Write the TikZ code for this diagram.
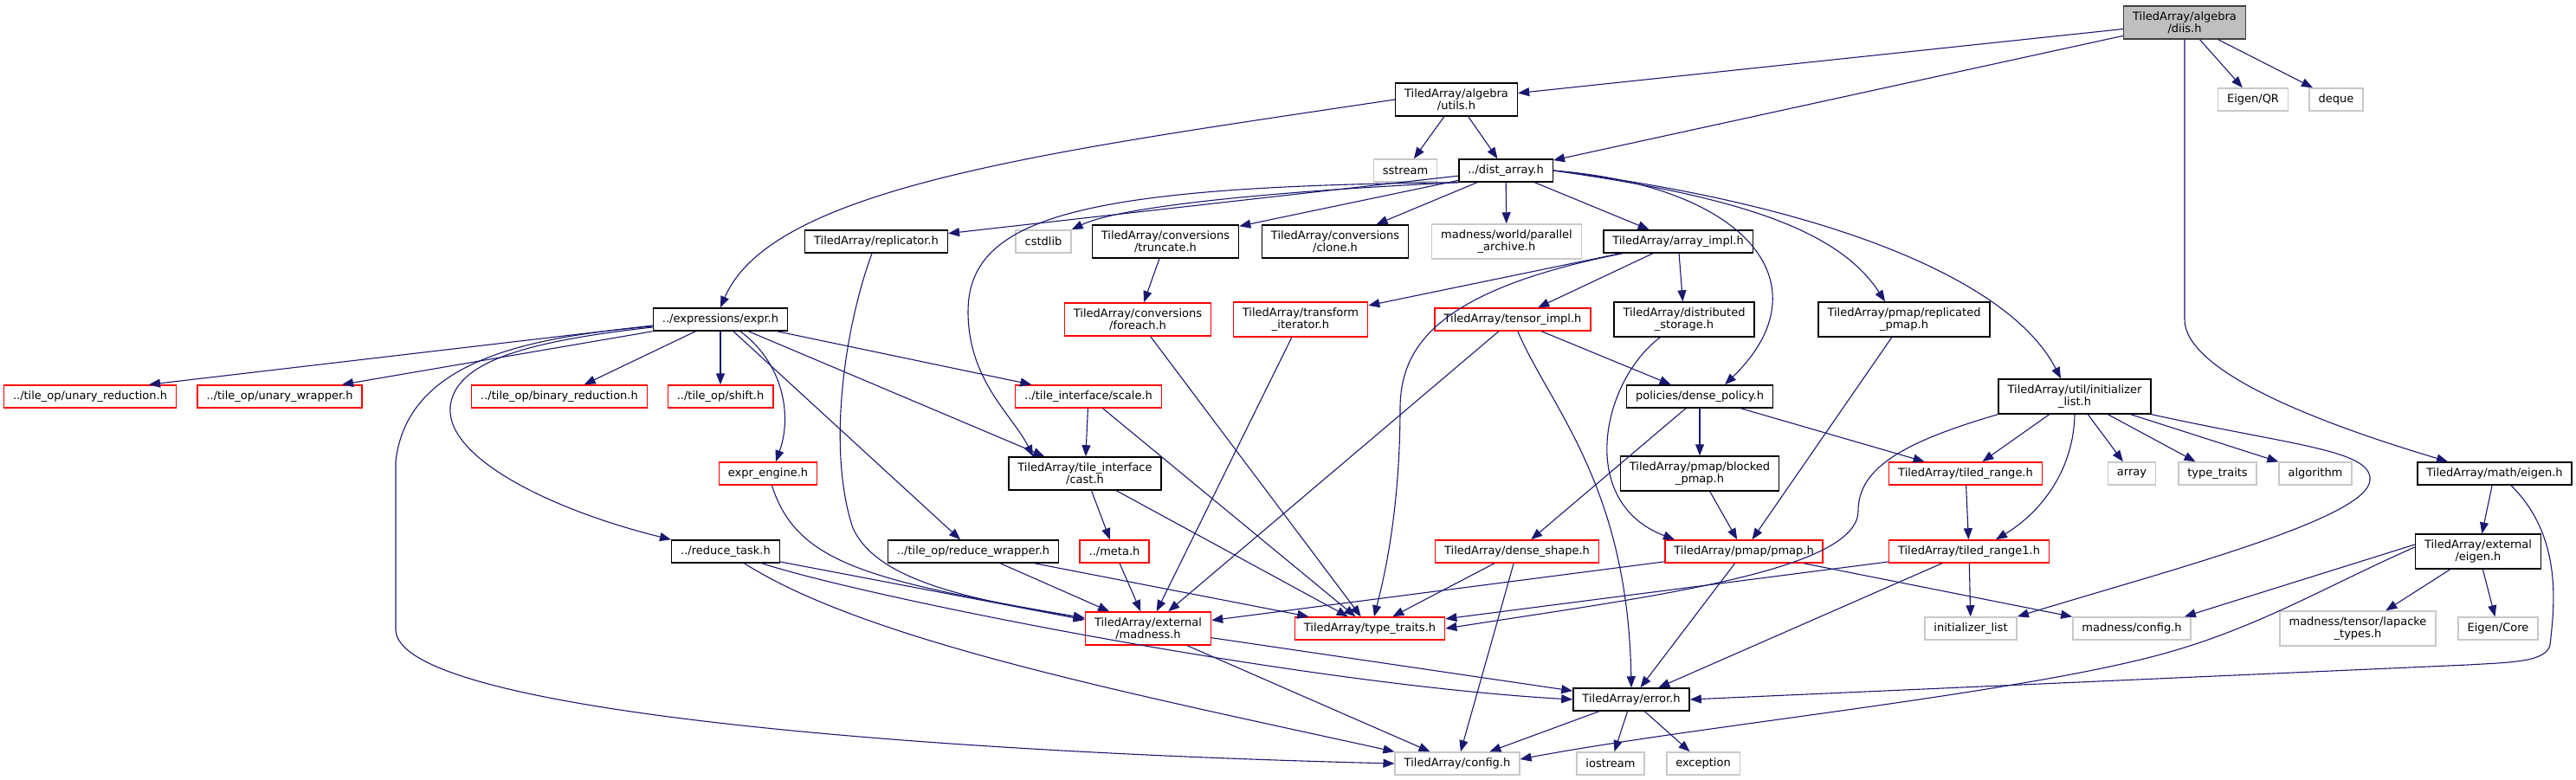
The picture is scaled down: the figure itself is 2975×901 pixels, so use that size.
\documentclass[tikz,border=0pt]{standalone}
\usepackage{fontspec}
\setmainfont{DejaVu Sans}
\usepackage{tikz}
\usetikzlibrary{arrows.meta, positioning}
\definecolor{edgeblue}{RGB}{25,25,112}
\definecolor{extgray}{RGB}{200,200,200}
\definecolor{rootfill}{RGB}{191,191,191}
\definecolor{rootline}{RGB}{64,64,64}
\tikzset{
  filenode/.style={rectangle, draw=black, fill=white, align=center,
    font=\fontsize{13}{14}\selectfont, inner xsep=10.5pt, inner ysep=6.5pt,
    minimum height=26pt, line width=1.5pt},
  truncnode/.style={filenode, draw=red},
  extnode/.style={filenode, draw=extgray},
  rootnode/.style={filenode, draw=rootline, fill=rootfill},
  inc/.style={-{Triangle[length=13pt, width=10pt]}, line width=1.1pt, color=edgeblue}
}

\begin{document}
\begin{tikzpicture}[x=1pt, y=-1pt]
  \useasboundingbox (0,0) rectangle (2975,901);
  % Files, top to bottom
  \node[rootnode] (diis) at (2523,26) {TiledArray/algebra\\/diis.h};
  \node[filenode] (utils) at (1682,115) {TiledArray/algebra\\/utils.h};
  \node[extnode] (eigenqr) at (2602,115) {Eigen/QR};
  \node[extnode] (deque) at (2698,115) {deque};
  \node[extnode] (sstream) at (1623,197) {sstream};
  \node[filenode] (distarray) at (1739,197) {../dist\_array.h};
  \node[filenode] (replicator) at (1012,279) {TiledArray/replicator.h};
  \node[extnode] (cstdlib) at (1205,279) {cstdlib};
  \node[filenode] (truncate) at (1346,279) {TiledArray/conversions\\/truncate.h};
  \node[filenode] (clone) at (1542,279) {TiledArray/conversions\\/clone.h};
  \node[extnode] (archive) at (1740,279) {madness/world/parallel\\\_archive.h};
  \node[filenode] (arrayimpl) at (1938,279) {TiledArray/array\_impl.h};
  \node[filenode] (expr) at (832,369) {../expressions/expr.h};
  \node[truncnode] (foreach) at (1314,369) {TiledArray/conversions\\/foreach.h};
  \node[truncnode] (transform) at (1502,369) {TiledArray/transform\\\_iterator.h};
  \node[truncnode] (tensorimpl) at (1747,369) {TiledArray/tensor\_impl.h};
  \node[filenode] (diststorage) at (1945,369) {TiledArray/distributed\\\_storage.h};
  \node[filenode] (replpmap) at (2199,369) {TiledArray/pmap/replicated\\\_pmap.h};
  \node[truncnode] (unaryred) at (104,458) {../tile\_op/unary\_reduction.h};
  \node[truncnode] (unarywrap) at (323,458) {../tile\_op/unary\_wrapper.h};
  \node[truncnode] (binaryred) at (646,458) {../tile\_op/binary\_reduction.h};
  \node[truncnode] (shiftop) at (832,458) {../tile\_op/shift.h};
  \node[truncnode] (scaleop) at (1257,458) {../tile\_interface/scale.h};
  \node[filenode] (densepolicy) at (1963,458) {policies/dense\_policy.h};
  \node[filenode] (initlist) at (2396,458) {TiledArray/util/initializer\\\_list.h};
  \node[truncnode] (exprengine) at (887,547) {expr\_engine.h};
  \node[filenode] (cast) at (1253,547) {TiledArray/tile\_interface\\/cast.h};
  \node[filenode] (blockedpmap) at (1963,547) {TiledArray/pmap/blocked\\\_pmap.h};
  \node[truncnode] (tiledrange) at (2270,547) {TiledArray/tiled\_range.h};
  \node[extnode] (array) at (2462,547) {array};
  \node[extnode] (stdtraits) at (2561,547) {type\_traits};
  \node[extnode] (algorithm) at (2674,547) {algorithm};
  \node[filenode] (matheigen) at (2881,547) {TiledArray/math/eigen.h};
  \node[filenode] (reducetask) at (838,637) {../reduce\_task.h};
  \node[filenode] (reducewrap) at (1124,637) {../tile\_op/reduce\_wrapper.h};
  \node[truncnode] (meta) at (1287,637) {../meta.h};
  \node[truncnode] (denseshape) at (1752,637) {TiledArray/dense\_shape.h};
  \node[truncnode] (pmap) at (2014,637) {TiledArray/pmap/pmap.h};
  \node[truncnode] (tiledrange1) at (2274,637) {TiledArray/tiled\_range1.h};
  \node[filenode] (exteigen) at (2862,637) {TiledArray/external\\/eigen.h};
  \node[truncnode] (madness) at (1326,726) {TiledArray/external\\/madness.h};
  \node[truncnode] (typetraits) at (1582,726) {TiledArray/type\_traits.h};
  \node[extnode] (stdinit) at (2276,726) {initializer\_list};
  \node[extnode] (madconfig) at (2462,726) {madness/config.h};
  \node[extnode] (lapacke) at (2723,726) {madness/tensor/lapacke\\\_types.h};
  \node[extnode] (eigencore) at (2885,726) {Eigen/Core};
  \node[filenode] (error) at (1884,808) {TiledArray/error.h};
  \node[extnode] (config) at (1683,882) {TiledArray/config.h};
  \node[extnode] (iostream) at (1860,882) {iostream};
  \node[extnode] (exception) at (1967,882) {exception};

  % diis.h
  \draw[inc] (diis) -- (utils);
  \draw[inc] (diis) -- (distarray);
  \draw[inc] (diis) -- (eigenqr);
  \draw[inc] (diis) -- (deque);
  \draw[inc] (diis.south) -- (2523,369) .. controls (2523,440) and (2740,507) .. ([xshift=-54pt]matheigen.north);
  % utils.h
  \draw[inc] (utils.west) .. controls (1210,175) and (892,216) .. (expr.north);
  \draw[inc] (utils) -- (sstream);
  \draw[inc] (utils) -- (distarray);
  % dist_array.h
  \draw[inc] (distarray) -- (replicator);
  \draw[inc] (distarray.south west) .. controls (1450,222) and (1290,240) .. (cstdlib.north east);
  \draw[inc] (distarray) -- (truncate);
  \draw[inc] (distarray) -- (clone);
  \draw[inc] (distarray) -- (archive);
  \draw[inc] (distarray) -- (arrayimpl);
  \draw[inc] (distarray.south west) .. controls (1250,215) and (1118,250) .. (1118,360)
    .. controls (1118,440) and (1170,480) .. ([xshift=-60pt]cast.north);
  \draw[inc] (distarray.east) .. controls (2020,215) and (2110,330) .. ([xshift=29pt]densepolicy.north);
  \draw[inc] (distarray.east) .. controls (1990,225) and (2120,260) .. ([xshift=-22pt]replpmap.north);
  \draw[inc] (distarray.east) .. controls (2100,235) and (2320,320) .. ([xshift=-16pt]initlist.north);
  % array_impl.h
  \draw[inc] (arrayimpl) -- (transform);
  \draw[inc] ([xshift=-64pt]arrayimpl.south) .. controls (1660,335) and (1618,400) .. (1617,470)
    .. controls (1617,600) and (1595,680) .. ([xshift=5pt]typetraits.north);
  \draw[inc] (arrayimpl) -- (tensorimpl);
  \draw[inc] (arrayimpl) -- (diststorage);
  % conversions, transform, tensor_impl
  \draw[inc] (truncate) -- (foreach);
  \draw[inc] (foreach) -- (typetraits);
  \draw[inc] (transform) -- (madness);
  \draw[inc] (tensorimpl) -- (madness);
  \draw[inc] (tensorimpl) .. controls (1790,470) and (1880,560) .. (error.north);
  \draw[inc] (tensorimpl) -- (densepolicy);
  \draw[inc] (diststorage) .. controls (1850,440) and (1820,580) .. ([xshift=-80pt]pmap.north);
  \draw[inc] (replpmap) -- (pmap);
  % dense_policy.h
  \draw[inc] (densepolicy) -- (denseshape);
  \draw[inc] (densepolicy) -- (blockedpmap);
  \draw[inc] (densepolicy) -- (tiledrange);
  \draw[inc] (blockedpmap) -- (pmap);
  % pmap.h
  \draw[inc] (pmap) -- (madness);
  \draw[inc] (pmap) -- (error);
  \draw[inc] (pmap) -- (madconfig);
  % tiled ranges
  \draw[inc] (tiledrange) -- (tiledrange1);
  \draw[inc] (tiledrange1) -- (typetraits);
  \draw[inc] (tiledrange1) -- (error);
  \draw[inc] (tiledrange1) -- (stdinit);
  % util/initializer_list.h
  \draw[inc] (initlist.south west) .. controls (2200,510) and (2146,540) .. (2146,590)
    .. controls (2146,660) and (1900,690) .. (typetraits.east);
  \draw[inc] (initlist) -- (tiledrange);
  \draw[inc] (initlist.south) .. controls (2395,540) and (2360,590) .. ([xshift=31pt]tiledrange1.north);
  \draw[inc] (initlist) -- (array);
  \draw[inc] (initlist) -- (stdtraits);
  \draw[inc] (initlist) -- (algorithm);
  \draw[inc] (initlist.south east) .. controls (2650,515) and (2740,520) .. (2737,555)
    .. controls (2733,600) and (2500,660) .. (stdinit.north east);
  % eigen
  \draw[inc] (matheigen) -- (exteigen);
  \draw[inc] ([xshift=19pt]matheigen.south) .. controls (2960,620) and (2950,700) .. (2945,745)
    .. controls (2940,765) and (2900,765) .. (2850,768) -- (error.east);
  \draw[inc] ([yshift=8pt]exteigen.west) -- ([xshift=-8pt]madconfig.north east);
  \draw[inc] (exteigen) -- (lapacke);
  \draw[inc] (exteigen) -- (eigencore);
  \draw[inc] ([yshift=5pt]exteigen.west) .. controls (2680,680) and (2600,730) .. (2480,760)
    .. controls (2300,805) and (1950,840) .. ([yshift=5pt]config.east);
  % error.h and madness.h
  \draw[inc] (error) -- (config);
  \draw[inc] (error) -- (iostream);
  \draw[inc] (error) -- (exception);
  \draw[inc] (madness) -- (error);
  \draw[inc] (madness) -- (config);
  \draw[inc] (denseshape) -- (typetraits);
  \draw[inc] (denseshape) -- (config);
  % tile interface
  \draw[inc] (meta) -- (madness);
  \draw[inc] (cast) -- (meta);
  \draw[inc] (cast) -- (typetraits);
  \draw[inc] (scaleop) -- (cast);
  \draw[inc] (scaleop) -- (typetraits);
  \draw[inc] (reducewrap) -- (madness);
  \draw[inc] (reducewrap) -- (typetraits);
  % reduce_task.h, replicator.h, expr_engine.h
  \draw[inc] (reducetask) -- ([yshift=10pt]madness.west);
  \draw[inc] (reducetask) .. controls (1000,690) and (1500,790) .. (error.west);
  \draw[inc] (reducetask) .. controls (1000,740) and (1300,800) .. (config.north west);
  \draw[inc] (replicator) .. controls (975,380) and (955,520) .. (985,610)
    .. controls (1010,665) and (1100,690) .. ([yshift=12pt]madness.west);
  \draw[inc] (exprengine) .. controls (920,650) and (1000,670) .. ([yshift=12pt]madness.west);
  % expr.h
  \draw[inc] ([yshift=-7pt]expr.west) -- ([xshift=68pt]unaryred.north);
  \draw[inc] (expr.south west) -- ([xshift=72pt]unarywrap.north);
  \draw[inc] (expr) -- (binaryred);
  \draw[inc] (expr) -- (shiftop);
  \draw[inc] ([xshift=23pt]expr.south) .. controls (905,420) and (915,480) .. ([xshift=9pt]exprengine.north);
  \draw[inc] (expr) -- (reducewrap);
  \draw[inc] (expr) -- (cast);
  \draw[inc] (expr) -- (scaleop);
  \draw[inc] ([yshift=-9pt]expr.west) .. controls (600,395) and (525,420) .. (520,470)
    .. controls (515,530) and (640,590) .. (reducetask.north west);
  \draw[inc] ([yshift=-8pt]expr.west) .. controls (600,390) and (470,420) .. (457,533) -- (457,727)
    .. controls (457,820) and (1050,868) .. (config.west);
\end{tikzpicture}
\end{document}
